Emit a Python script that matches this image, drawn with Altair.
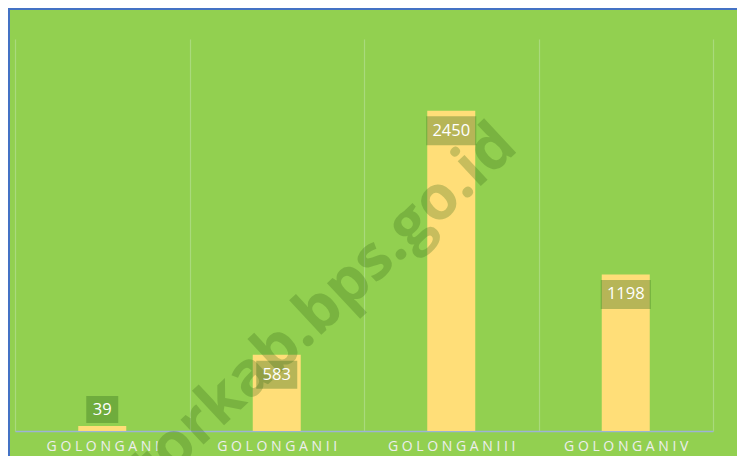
import altair as alt
import pandas as pd

categories = ["Golongan I", "Golongan II", "Golongan III", "Golongan IV"]
values = [39, 583, 2450, 1198]
watermark = "torkab.bps.go.id"

df = pd.DataFrame({"cat": categories, "value": values})

W, H = 698, 392

x_enc = alt.X(
    "cat:N",
    sort=categories,
    scale=alt.Scale(paddingInner=0, paddingOuter=0),
    axis=alt.Axis(
        title=None,
        ticks=False,
        grid=True,
        tickBand="extent",
        gridColor="#A9DA7C",
        gridWidth=1.2,
        domainColor="#9DB3D6",
        domainWidth=1.5,
        labelAngle=0,
        labelColor="#EEEEEE",
        labelFont="Open Sans",
        labelFontSize=14,
        labelPadding=8,
        labelExpr="join(split(upper(replace(datum.label, ' ', '')), ''), ' ')",
    ),
)
y_enc = alt.Y("value:Q", scale=alt.Scale(domain=[0, 3000]), axis=None)

base = alt.Chart(df).encode(x=x_enc)

bars = base.mark_bar(size=48, color="#FFDE78").encode(y=y_enc)

lab = base.transform_calculate(
    lpos="datum.value < 200 ? 164 : datum.value - 153",
    box="length(toString(datum.value)) >= 4 ? 'M-1,-0.58H1V0.58H-1Z' : (length(toString(datum.value)) == 3 ? 'M-0.82,-0.56H0.82V0.56H-0.82Z' : 'M-0.64,-0.54H0.64V0.54H-0.64Z')",
)
boxes = lab.mark_point(filled=True, size=2500, color="#2E6B1A", opacity=0.35, strokeWidth=0).encode(
    y=alt.Y("lpos:Q", scale=alt.Scale(domain=[0, 3000]), axis=None),
    shape=alt.Shape("box:N", scale=None, legend=None),
)
texts = lab.mark_text(font="Open Sans", fontSize=16.5, color="#FFFFFF", baseline="middle").encode(
    y=alt.Y("lpos:Q", scale=alt.Scale(domain=[0, 3000]), axis=None),
    text="value:Q",
)

wm = alt.Chart(pd.DataFrame({"t": [watermark]})).mark_text(
    font="Open Sans", fontSize=62, fontWeight="bold", color="#3A6B1A", opacity=0.28,
    angle=317, align="center", baseline="middle",
).encode(text="t:N", x=alt.value(308), y=alt.value(268))

top_border = alt.Chart(df).mark_rule(color="#4472C4", strokeWidth=2).encode(
    x=alt.value(-7), x2=alt.value(W + 40), y=alt.value(-30)
)
left_border = alt.Chart(df).mark_rule(color="#4472C4", strokeWidth=2).encode(
    x=alt.value(-6), y=alt.value(-31), y2=alt.value(H + 40)
)

chart = alt.layer(bars, wm, boxes, texts, top_border, left_border).properties(
    width=W,
    height=H,
    autosize=alt.AutoSizeParams(type="none"),
    padding={"left": 7, "top": 31, "right": 24, "bottom": 25},
    background="#92D050",
).configure_view(stroke=None)

chart.save("out.html", embed_options={"renderer": "svg", "actions": False})
